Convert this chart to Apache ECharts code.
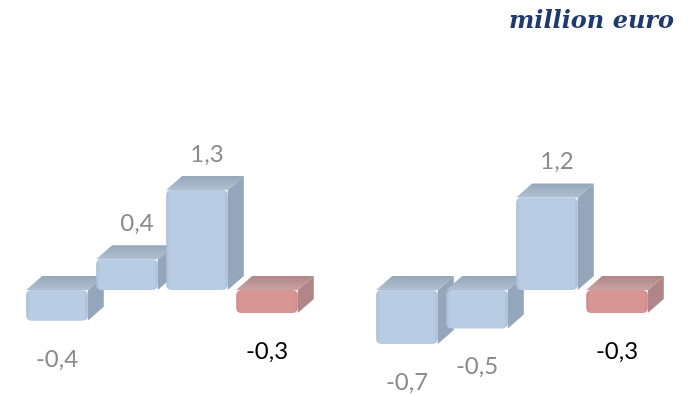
<!DOCTYPE html>
<html>
<head>
<meta charset="utf-8">
<script src="https://cdn.jsdelivr.net/npm/echarts@6/dist/echarts.min.js"></script>
<style>
  html, body { margin: 0; padding: 0; background: #ffffff; }
  #chart { width: 688px; height: 394px; }
</style>
</head>
<body>
<div id="chart"></div>
<script>
// two groups of four bars, with an empty slot between them
const categories = ["A1", "A2", "A3", "A4", "", "B1", "B2", "B3", "B4"];
const values = [-0.4, 0.4, 1.3, -0.3, null, -0.7, -0.5, 1.2, -0.3];
const isRed = [false, false, false, true, false, false, false, false, true];

const blue = { front: "#b8cce4", edge: "#a9bdd4", top: "#b1c0d2", side: "#94a7ba", text: "#8c8c8c" };
const red = { front: "#d99594", edge: "#cc8a8a", top: "#c9a2a4", side: "#b08688", text: "#000000" };

const chart = echarts.init(document.getElementById("chart"));

const DX = 16, DY = 14;

function fmt(v) {
  return v.toFixed(1).replace(".", ",");
}

function renderBar(params, api) {
  const idx = api.value(0);
  const val = api.value(1);
  if (val == null || isNaN(val)) return;
  const base = api.coord([idx, 0]);
  const end = api.coord([idx, val]);
  const w = api.size([1, 0])[0] * 0.88;
  const x0 = base[0] - w / 2;
  const x1 = base[0] + w / 2;
  const yTop = Math.min(base[1], end[1]);
  const yBot = Math.max(base[1], end[1]);
  const c = isRed[idx] ? red : blue;

  const children = [
    {
      type: "polygon",
      shape: { points: [[x1, yTop], [x1 + DX, yTop - DY], [x1 + DX, yBot - DY], [x1, yBot]] },
      style: { fill: c.side }
    },
    {
      type: "polygon",
      shape: { points: [[x0, yTop], [x0 + DX, yTop - DY], [x1 + DX, yTop - DY], [x1, yTop]] },
      style: {
        fill: new echarts.graphic.LinearGradient(0, 1, 0, 0, [
          { offset: 0, color: c.top },
          { offset: 1, color: c.side }
        ])
      }
    },
    {
      type: "rect",
      shape: { x: x0, y: yTop, width: w, height: yBot - yTop, r: 5 },
      style: {
        fill: new echarts.graphic.LinearGradient(0, 0, 1, 0, [
          { offset: 0, color: c.edge },
          { offset: 0.06, color: c.front },
          { offset: 0.94, color: c.front },
          { offset: 1, color: c.edge }
        ])
      }
    }
  ];

  let tx, ty;
  if (val >= 0) {
    tx = base[0] + DX / 2 + 2;
    ty = yTop - DY - 22;
  } else {
    tx = base[0];
    ty = yBot + 38;
  }
  children.push({
    type: "text",
    style: {
      x: tx,
      y: ty,
      text: fmt(val),
      fill: c.text,
      font: "24px Lato, 'Open Sans', sans-serif",
      align: "center",
      verticalAlign: "middle"
    }
  });

  return { type: "group", children: children };
}

const option = {
  animation: false,
  title: {
    text: "million euro",
    right: 9,
    top: 5,
    textStyle: {
      fontFamily: "DejaVu Serif",
      fontStyle: "italic",
      fontWeight: "bold",
      fontSize: 24,
      color: "#1f3a6e"
    }
  },
  grid: { left: 22, right: 36, top: 136, bottom: 27 },
  xAxis: {
    type: "category",
    data: categories,
    show: false
  },
  yAxis: {
    type: "value",
    min: -1,
    max: 2,
    show: false
  },
  series: [
    {
      type: "custom",
      renderItem: renderBar,
      data: values.map((v, i) => [i, v])
    }
  ]
};

chart.setOption(option);
</script>
</body>
</html>
